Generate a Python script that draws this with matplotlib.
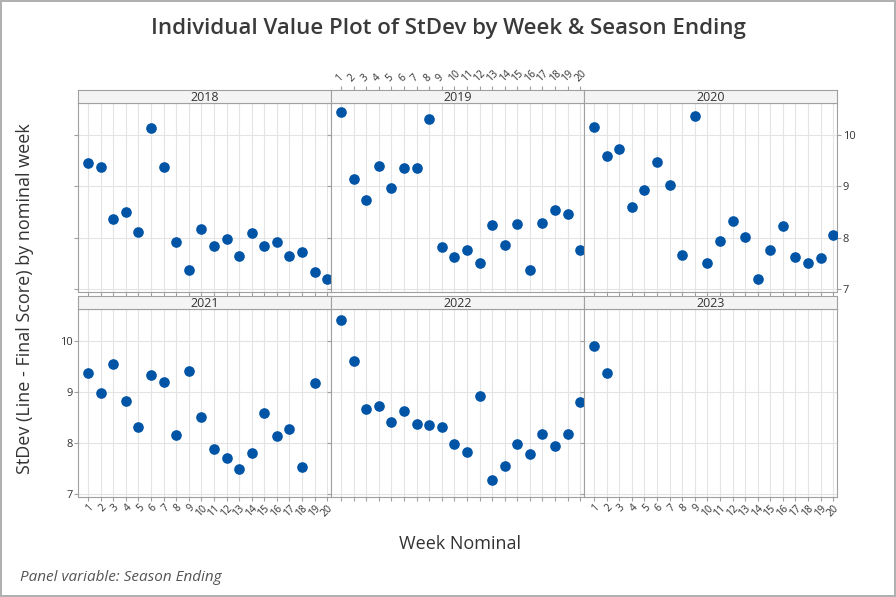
import matplotlib
matplotlib.use("Agg")
from matplotlib import pyplot as plt

plt.rcParams['font.family'] = ['Open Sans', 'DejaVu Sans']

semanas = list(range(1, 21))
temporadas = ['2018', '2019', '2020', '2021', '2022', '2023']
stdev = {
    '2018': [9.45, 9.38, 8.36, 8.49, 8.10, 10.13, 9.38, 7.92, 7.37, 8.17,
             7.84, 7.98, 7.65, 8.09, 7.84, 7.92, 7.65, 7.72, 7.33, 7.20],
    '2019': [10.44, 9.14, 8.74, 9.40, 8.96, 9.36, 9.36, 10.31, 7.81, 7.63,
             7.75, 7.50, 8.24, 7.86, 8.26, 7.36, 8.28, 8.53, 8.45, 7.76],
    '2020': [10.15, 9.59, 9.73, 8.60, 8.92, 9.48, 9.02, 7.67, 10.36, 7.50,
             7.94, 8.32, 8.01, 7.19, 7.75, 8.23, 7.63, 7.50, 7.61, 8.05],
    '2021': [9.36, 8.97, 9.55, 8.82, 8.32, 9.32, 9.19, 8.15, 9.40, 8.51,
             7.87, 7.71, 7.48, 7.81, 8.59, 8.13, 8.27, 7.53, 9.18],
    '2022': [10.40, 9.60, 8.66, 8.73, 8.40, 8.62, 8.36, 8.34, 8.31, 7.98,
             7.83, 8.92, 7.28, 7.54, 7.98, 7.79, 8.18, 7.94, 8.18, 8.80],
    '2023': [9.89, 9.36],
}

fig = plt.figure(figsize=(8.96, 5.97), dpi=100)
fig.patch.set_edgecolor('#b0b0b0')
fig.patch.set_linewidth(1.5)

izq, ancho = 78 / 896, 253 / 896
filas = [(1 - 292 / 597, 189 / 597), (1 - 497 / 597, 188 / 597)]
tira = 13 / 597
gris = '#a0a0a0'

for i, temp in enumerate(temporadas):
    fila, col = divmod(i, 3)
    abajo, alto = filas[fila]
    ax = fig.add_axes([izq + col * ancho, abajo, ancho, alto])
    y = stdev[temp]
    ax.scatter(semanas[:len(y)], y, s=44, color='#0054a6', zorder=3)
    ax.set_xlim(0.2, 20.3)
    ax.set_ylim(6.94, 10.62)
    ax.set_xticks(semanas)
    ax.set_yticks([7, 8, 9, 10])
    ax.grid(True, color='#e4e4e4', linewidth=0.8)
    for s in ax.spines.values():
        s.set_color(gris)
    ax.tick_params(length=3, color=gris, labelsize=8, labelcolor='#333333', pad=1)
    ax.tick_params(axis='x', labelbottom=False)
    ax.tick_params(axis='y', labelleft=False)
    if fila == 0 and col == 1:
        ax.tick_params(axis='x', bottom=False)
    if fila == 0 and col == 2:
        ax.tick_params(axis='y', right=True, labelright=True, left=False)
    if fila == 1 and col in (0, 2):
        ax.tick_params(axis='x', labelbottom=True, labelsize=7.5)
        plt.setp(ax.get_xticklabels(), rotation=45, ha='right', rotation_mode='anchor')
    if fila == 1 and col == 0:
        ax.tick_params(axis='y', labelleft=True)
    # tira con el año
    ta = fig.add_axes([izq + col * ancho, abajo + alto, ancho, tira])
    ta.set_facecolor('#f4f4f4')
    ta.set_yticks([])
    ta.set_xlim(0.2, 20.3)
    if fila == 0 and col == 1:
        ta.set_xticks(semanas)
        ta.tick_params(axis='x', top=True, labeltop=True, bottom=False, labelbottom=False,
                       length=3, color=gris, labelsize=7.5, labelcolor='#333333', pad=1)
        plt.setp(ta.get_xticklabels(), rotation=45, ha='left', rotation_mode='anchor')
    else:
        ta.set_xticks([])
    for s in ta.spines.values():
        s.set_color(gris)
    ta.text(0.5, 0.45, temp, ha='center', va='center', fontsize=9, color='#333333',
            transform=ta.transAxes)

fig.text(0.5, 0.952, 'Individual Value Plot of StDev by Week & Season Ending',
         ha='center', va='center', fontsize=16, fontweight='semibold', color='#3a3a3a')
fig.text(0.028, 0.5, 'StDev (Line - Final Score) by nominal week', rotation=90,
         ha='center', va='center', fontsize=13, color='#333333')
fig.text(0.513, 0.088, 'Week Nominal', ha='center', va='center', fontsize=13,
         color='#333333')
fig.text(0.022, 0.032, 'Panel variable: Season Ending', ha='left', va='center',
         fontsize=11, style='italic', color='#555555')

fig.savefig('out.png', dpi=100)
